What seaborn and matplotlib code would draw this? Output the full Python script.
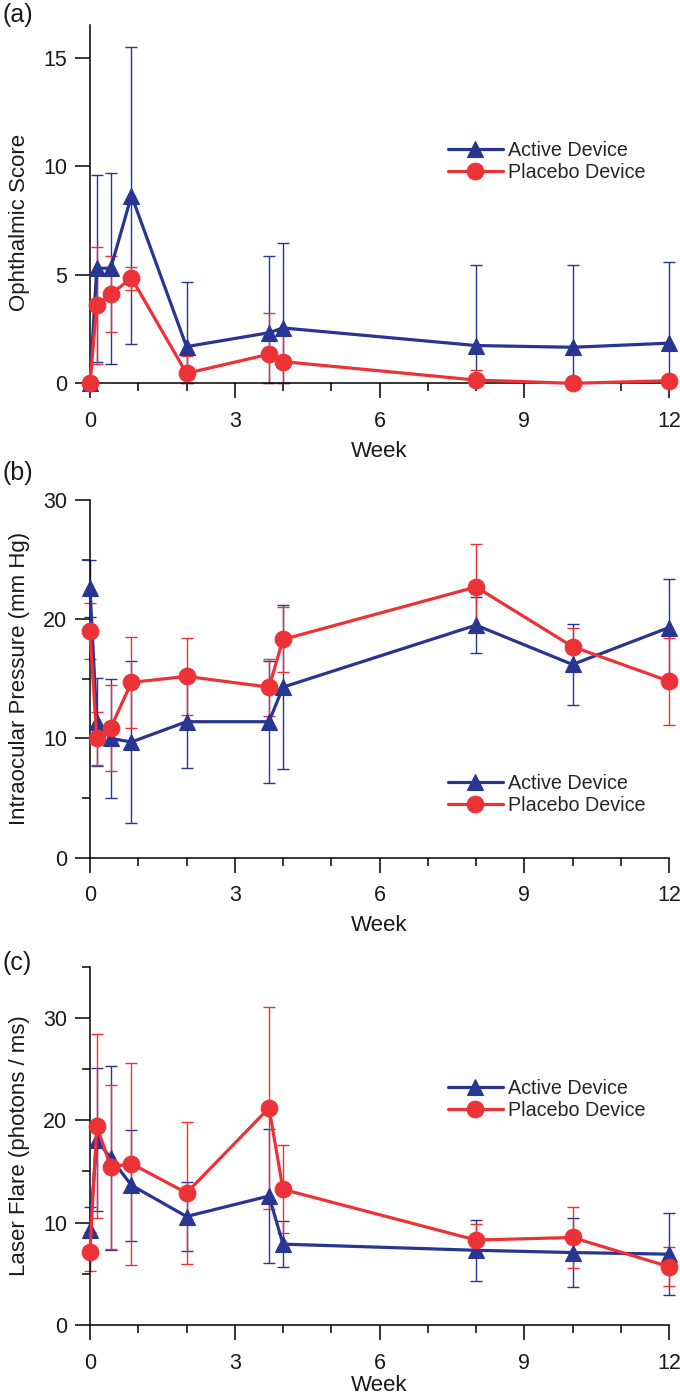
import numpy as np
import seaborn as sns
import matplotlib.pyplot as plt
from matplotlib.ticker import MultipleLocator

# weeks of the visits (day 1, day 3, day 6, day 26 expressed in weeks)
weeks = [0, 0.14, 0.43, 0.86, 2, 3.71, 4, 8, 10, 12]

# (a) ophthalmic score
ophth_active = [0, 5.3, 5.3, 8.65, 1.69, 2.33, 2.55, 1.74, 1.66, 1.85]
ophth_active_sd = [0, 4.3, 4.4, 6.85, 2.97, 3.55, 3.9, 3.72, 3.77, 3.73]
ophth_placebo = [0, 3.6, 4.1, 4.85, 0.46, 1.34, 1.0, 0.15, 0.0, 0.12]
ophth_placebo_sd = [0, 2.7, 1.75, 0.53, 0.8, 1.9, 1.4, 0.45, 0, 0]

# (b) intraocular pressure
iop_active = [22.6, 11.4, 10.0, 9.7, 11.4, 11.4, 14.3, 19.5, 16.2, 19.3]
iop_active_sd = [2.4, 3.7, 5.0, 6.8, 3.9, 5.1, 6.85, 2.35, 3.4, 4.05]
iop_placebo = [19.0, 10.0, 10.9, 14.7, 15.2, 14.3, 18.3, 22.7, 17.7, 14.8]
iop_placebo_sd = [2.33, 2.2, 3.6, 3.8, 3.2, 2.4, 2.75, 3.6, 1.6, 3.65]

# (c) laser flare
flare_active = [9.3, 18.1, 16.3, 13.65, 10.6, 12.6, 7.9, 7.3, 7.08, 6.92]
flare_active_sd = [2.25, 7.0, 9.0, 5.4, 3.35, 6.55, 2.27, 3.0, 3.33, 4.0]
flare_placebo = [7.15, 19.45, 15.45, 15.76, 12.9, 21.2, 13.25, 8.3, 8.55, 5.7]
flare_placebo_sd = [1.9, 9.0, 8.0, 9.85, 6.9, 9.87, 4.3, 1.6, 2.96, 1.9]

blue = "#283593"
red = "#ec3237"

sns.set_style("ticks")
plt.rcParams["font.family"] = ["Liberation Sans", "DejaVu Sans"]

fig = plt.figure(figsize=(6.8, 14), dpi=100)

panels = [
    ("(a)", ophth_active, ophth_active_sd, ophth_placebo, ophth_placebo_sd,
     "Ophthalmic Score", 16.5, 5, None, 0.7262, 0.2559, 0.45, 0.620, 15 / 1400, -0.19),
    ("(b)", iop_active, iop_active_sd, iop_placebo, iop_placebo_sd,
     "Intraocular Pressure (mm Hg)", 30, 10, 5, 0.3874, 0.2555, 0.5, 0.177, 473 / 1400, -0.19),
    ("(c)", flare_active, flare_active_sd, flare_placebo, flare_placebo_sd,
     "Laser Flare (photons / ms)", 35, 10, 5, 0.05357, 0.2559, 0.5, 0.630, 963 / 1400, -0.168),
]

for (tag, act, act_sd, plc, plc_sd, ylab, ytop, ymaj, ymin,
     bottom, height, ylab_y, leg_y, tag_y, xlab_y) in panels:
    ax = fig.add_axes([90 / 680, bottom, 579 / 680, height])

    for vals, sd, col in [(act, act_sd, blue), (plc, plc_sd, red)]:
        v = np.array(vals)
        s = np.array(sd)
        ax.errorbar(weeks, v, yerr=[np.minimum(s, v), s], fmt="none",
                    ecolor=col, elinewidth=1.0, capsize=4, capthick=1.0,
                    clip_on=False, zorder=2)

    sns.lineplot(x=weeks, y=act, ax=ax, color=blue, lw=2.3, marker="^",
                 markersize=11.8, markeredgecolor=blue, markeredgewidth=0.8,
                 label="Active Device", clip_on=False, zorder=3)
    sns.lineplot(x=weeks, y=plc, ax=ax, color=red, lw=2.3, marker="o",
                 markersize=12, markeredgecolor=red, markeredgewidth=0.8,
                 label="Placebo Device", clip_on=False, zorder=4)

    ax.set_xlim(0, 12)
    ax.set_ylim(0, ytop)
    ax.xaxis.set_major_locator(MultipleLocator(3))
    ax.xaxis.set_minor_locator(MultipleLocator(1))
    ax.yaxis.set_major_locator(MultipleLocator(ymaj))
    if ymin:
        ax.yaxis.set_minor_locator(MultipleLocator(ymin))

    sns.despine(ax=ax)
    for sp in ["left", "bottom"]:
        ax.spines[sp].set_linewidth(1.1)
        ax.spines[sp].set_color("black")

    ax.tick_params(which="major", length=10.8, width=1.1, labelsize=15.5,
                   color="black", labelcolor="#1a1a1a")
    ax.tick_params(which="minor", length=5.8, width=1.1, color="black")
    ax.tick_params(axis="x", which="major", pad=9)
    ax.tick_params(axis="y", which="major", pad=5.5)

    ax.set_xlabel("Week", fontsize=16, color="#1a1a1a")
    ax.xaxis.set_label_coords(0.5, xlab_y)
    ax.xaxis.label.set_va("center")
    ax.set_ylabel(ylab, fontsize=16, color="#1a1a1a")
    ax.yaxis.set_label_coords(-0.121, ylab_y)
    ax.yaxis.label.set_va("center")

    ax.legend(loc="center left", bbox_to_anchor=(0.618, leg_y), frameon=False,
              fontsize=14.2, borderpad=0, borderaxespad=0, handlelength=2.8,
              handletextpad=0.25, labelspacing=0.15)

    fig.text(0.003, 1 - tag_y, tag, fontsize=18, ha="left", va="center",
             color="#1a1a1a")

fig.savefig("out.png", dpi=100)
